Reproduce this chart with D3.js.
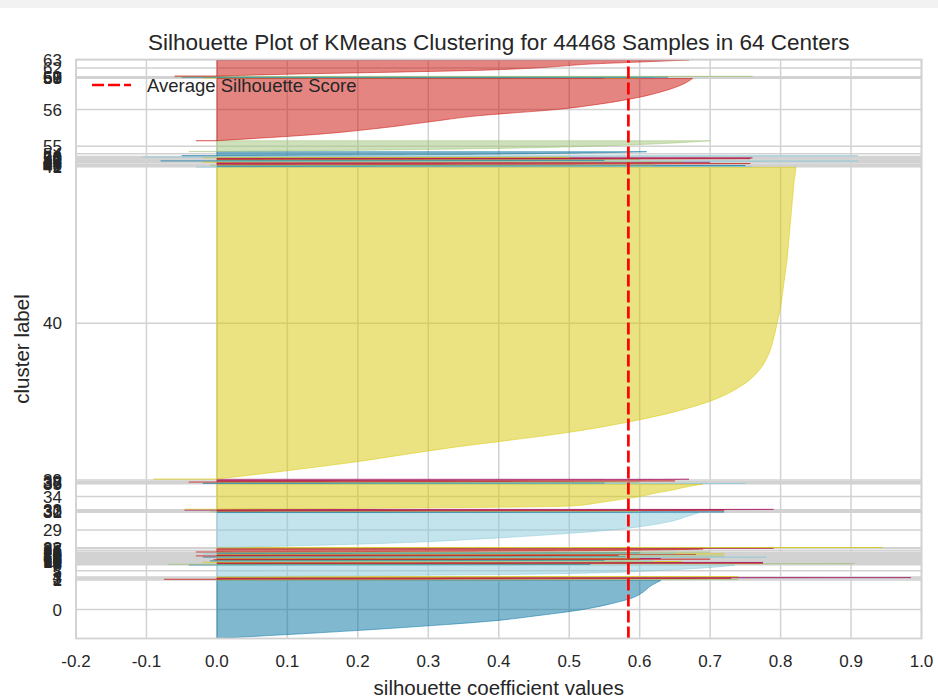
<!DOCTYPE html>
<html lang="en">
<head>
<meta charset="UTF-8">
<title>Silhouette Plot of KMeans Clustering</title>
<style>
  body { margin: 0; background: #fff; }
  text { font-family: "Liberation Sans", Arial, sans-serif; fill: #262626; }
</style>
</head>
<body>
<div id="chart"></div>
<script src="https://cdn.jsdelivr.net/npm/d3@7"></script>
<script>
// cluster labels 0..63
const clusterLabels = [
  0, 1, 2, 3, 4, 5, 6, 7, 8, 9, 10, 11, 12, 13, 14, 15, 16, 17, 18, 19,
  20, 21, 22, 23, 24, 25, 26, 27, 28, 29, 30, 31, 32, 33, 34, 35, 36, 37, 38, 39,
  40, 41, 42, 43, 44, 45, 46, 47, 48, 49, 50, 51, 52, 53, 54, 55, 56, 57, 58, 59,
  60, 61, 62, 63];

// number of samples in each cluster (sum = 44468)
const clusterSizes = [
  4512, 62, 85, 48, 71, 884, 38, 52, 29, 44,
  61, 35, 47, 26, 40, 40, 33, 49, 40, 31,
  45, 55, 37, 28, 43, 40, 230, 41, 57, 2706,
  45, 38, 70, 60, 1968, 30, 42, 36, 95, 120,
  24296, 52, 60, 45, 95, 88, 40, 35, 50, 42,
  70, 48, 38, 110, 302, 839, 4843, 18, 22, 15,
  20, 45, 1262, 20];

// lowest silhouette value of each cluster (negative tails)
const clusterMins = [
  0, 0, -0.075, 0, 0, 0, -0.04, -0.07, 0, 0,
  -0.02, 0, -0.01, 0, -0.005, 0, 0, 0, -0.02, 0,
  -0.03, 0, 0, -0.02, 0, 0, -0.03, 0, 0, 0,
  0, -0.01, 0, -0.046, -0.047, 0, -0.02, 0, -0.04, 0,
  -0.09, -0.03, 0, -0.01, 0, 0, -0.02, 0, -0.08, 0,
  0, 0, -0.02, -0.105, -0.05, -0.04, -0.03, 0, -0.02, 0,
  -0.05, -0.06, -0.06, 0];

// sorted silhouette values, read at evenly spaced ranks (lowest -> highest)
const silhouetteProfiles = [
  [0.0, 0.15, 0.28, 0.39, 0.46, 0.52, 0.56, 0.59, 0.605, 0.615, 0.63],
  [0.05, 0.4, 0.74],
  [0.0, 0.45, 0.73],
  [0.1, 0.6, 0.985],
  [0.05, 0.45, 0.74],
  [0.05, 0.40, 0.55, 0.62, 0.67, 0.71, 0.735],
  [0.0, 0.3, 0.53],
  [0.0, 0.5, 0.905],
  [0.02, 0.5, 0.775],
  [0.02, 0.5, 0.775],
  [0.0, 0.4, 0.66],
  [0.0, 0.4, 0.62],
  [0.0, 0.3, 0.55],
  [0.0, 0.4, 0.6],
  [0.0, 0.45, 0.70],
  [0.0, 0.4, 0.63],
  [0.0, 0.35, 0.6],
  [0.0, 0.5, 0.78],
  [0.0, 0.35, 0.58],
  [0.0, 0.45, 0.72],
  [0.0, 0.35, 0.57],
  [0.0, 0.45, 0.68],
  [0.0, 0.5, 0.72],
  [0.0, 0.4, 0.65],
  [0.0, 0.35, 0.6],
  [0.0, 0.45, 0.7],
  [0.0, 0.45, 0.62, 0.69],
  [0.0, 0.55, 0.79],
  [0.05, 0.6, 0.945],
  [0.02, 0.25, 0.38, 0.48, 0.56, 0.61, 0.645, 0.665, 0.685],
  [0.0, 0.4, 0.72],
  [0.0, 0.35, 0.6],
  [0.0, 0.5, 0.72],
  [0.0, 0.55, 0.79],
  [0.0, 0.50, 0.54, 0.57, 0.60, 0.62, 0.645, 0.665, 0.69],
  [0.0, 0.5, 0.75],
  [0.0, 0.3, 0.55],
  [0.0, 0.35, 0.6],
  [0.0, 0.4, 0.65],
  [0.0, 0.5, 0.67],
  [0.0, 0.18, 0.33, 0.50, 0.62, 0.70, 0.745, 0.77, 0.783, 0.79, 0.795,
   0.80, 0.803, 0.806, 0.809, 0.811, 0.813, 0.815, 0.817, 0.819, 0.822],
  [0.0, 0.45, 0.76],
  [0.0, 0.35, 0.75],
  [0.0, 0.4, 0.62],
  [0.02, 0.5, 0.757],
  [0.01, 0.45, 0.70],
  [0.0, 0.4, 0.66],
  [0.05, 0.6, 0.91],
  [0.0, 0.3, 0.55],
  [0.0, 0.35, 0.6],
  [0.02, 0.48, 0.757],
  [0.05, 0.55, 0.76],
  [0.0, 0.3, 0.5],
  [0.0, 0.4, 0.91],
  [0.0, 0.3, 0.45, 0.55, 0.61],
  [0.0, 0.30, 0.48, 0.58, 0.65, 0.70],
  [0.0, 0.14, 0.23, 0.30, 0.37, 0.48, 0.55, 0.60, 0.635, 0.66, 0.675],
  [0.0, 0.3, 0.55],
  [0.0, 0.3, 0.6],
  [0.0, 0.35, 0.62],
  [0.0, 0.3, 0.64],
  [0.0, 0.45, 0.76],
  [0.0, 0.10, 0.25, 0.38, 0.45, 0.49, 0.53, 0.60, 0.67],
  [0.1, 0.4, 0.65]];

const averageScore = 0.584;
const xTicks = [-0.2, -0.1, 0.0, 0.1, 0.2, 0.3, 0.4, 0.5, 0.6, 0.7, 0.8, 0.9, 1.0];

// yellowbrick palette, cycled over the clusters
const palette = ["#0272a2", "#9fc377", "#ca0b03", "#a50258", "#d7c703", "#88cada"];

const W = 938, H = 698;
const plot = {left: 76, right: 921.5, top: 59.5, bottom: 638.5};

const svg = d3.select("#chart")
  .append("svg")
    .attr("width", W)
    .attr("height", H);

// notebook strip at the top
svg.append("rect")
  .attr("x", 0).attr("y", 0)
  .attr("width", W).attr("height", 8)
  .attr("fill", "#f2f2f2");

// scales
const x = d3.scaleLinear()
  .domain([-0.2, 1.0])
  .range([plot.left, plot.right]);

const yMax = d3.sum(clusterSizes) + 10 * (clusterSizes.length + 1);
const y = d3.scaleLinear()
  .domain([0, yMax])
  .range([plot.bottom, plot.top]);

// stack clusters bottom to top, 10 samples apart
let yLower = 10;
const layout = clusterSizes.map(function(n) {
  const c = {lower: yLower, upper: yLower + n, mid: yLower + n / 2};
  yLower += n + 10;
  return c;
});

// grid
const grid = svg.append("g");
grid.selectAll("line.vgrid")
  .data(xTicks)
  .join("line")
    .attr("x1", d => x(d)).attr("x2", d => x(d))
    .attr("y1", plot.top).attr("y2", plot.bottom)
    .attr("stroke", "#d2d2d2")
    .attr("stroke-width", 1.5);
grid.selectAll("line.hgrid")
  .data(layout)
  .join("line")
    .attr("x1", plot.left).attr("x2", plot.right)
    .attr("y1", d => y(d.mid)).attr("y2", d => y(d.mid))
    .attr("stroke", "#d2d2d2")
    .attr("stroke-width", 1.5);

// silhouettes
const area = d3.area()
  .curve(d3.curveMonotoneY)
  .y(d => y(d.pos))
  .x0(x(0))
  .x1(d => x(d.value));

const clusters = svg.append("g");
layout.forEach(function(c, i) {
  const prof = silhouetteProfiles[i];
  const pts = prof.map((v, j) => ({pos: c.lower + j / (prof.length - 1) * (c.upper - c.lower), value: v}));
  const color = palette[i % palette.length];
  clusters.append("path")
    .attr("d", area(pts))
    .attr("fill", color)
    .attr("fill-opacity", 0.5)
    .attr("stroke", color)
    .attr("stroke-opacity", 0.5)
    .attr("stroke-width", 1);
  if (clusterMins[i] < 0) {
    clusters.append("line")
      .attr("x1", x(0)).attr("x2", x(clusterMins[i]))
      .attr("y1", y(c.lower)).attr("y2", y(c.lower))
      .attr("stroke", color)
      .attr("stroke-opacity", 0.6)
      .attr("stroke-width", 1.2);
  }
});

// average silhouette score
svg.append("line")
  .attr("x1", x(averageScore)).attr("x2", x(averageScore))
  .attr("y1", plot.bottom).attr("y2", plot.top)
  .attr("stroke", "#ff0000")
  .attr("stroke-width", 2.7)
  .attr("stroke-dasharray", "12,4");

// frame
svg.append("rect")
  .attr("x", plot.left).attr("y", plot.top)
  .attr("width", plot.right - plot.left)
  .attr("height", plot.bottom - plot.top)
  .attr("fill", "none")
  .attr("stroke", "#d2d2d2")
  .attr("stroke-width", 1.8);

// x tick labels
svg.selectAll("text.xtick")
  .data(xTicks)
  .join("text")
    .attr("x", d => x(d))
    .attr("y", 667)
    .attr("text-anchor", "middle")
    .style("font-size", "17px")
    .text(d => d3.format(".1f")(d).replace("\u2212", "-"));

// y tick labels (one per cluster, they overlap where clusters are thin)
svg.selectAll("text.ytick")
  .data(layout)
  .join("text")
    .attr("x", 62)
    .attr("y", d => y(d.mid))
    .attr("dy", "0.36em")
    .attr("text-anchor", "end")
    .style("font-size", "17px")
    .text((d, i) => clusterLabels[i]);

// titles
svg.append("text")
  .attr("x", (plot.left + plot.right) / 2)
  .attr("y", 50)
  .attr("text-anchor", "middle")
  .style("font-size", "22.5px")
  .text("Silhouette Plot of KMeans Clustering for 44468 Samples in 64 Centers");

svg.append("text")
  .attr("x", (plot.left + plot.right) / 2)
  .attr("y", 695)
  .attr("text-anchor", "middle")
  .style("font-size", "20.5px")
  .text("silhouette coefficient values");

svg.append("text")
  .attr("transform", `translate(29, ${(plot.top + plot.bottom) / 2}) rotate(-90)`)
  .attr("text-anchor", "middle")
  .style("font-size", "20.5px")
  .text("cluster label");

// legend
svg.append("line")
  .attr("x1", 92).attr("x2", 131)
  .attr("y1", 85).attr("y2", 85)
  .attr("stroke", "#ff0000")
  .attr("stroke-width", 2.7)
  .attr("stroke-dasharray", "12,4");
svg.append("text")
  .attr("x", 147)
  .attr("y", 91.5)
  .style("font-size", "18.5px")
  .text("Average Silhouette Score");
</script>
</body>
</html>
